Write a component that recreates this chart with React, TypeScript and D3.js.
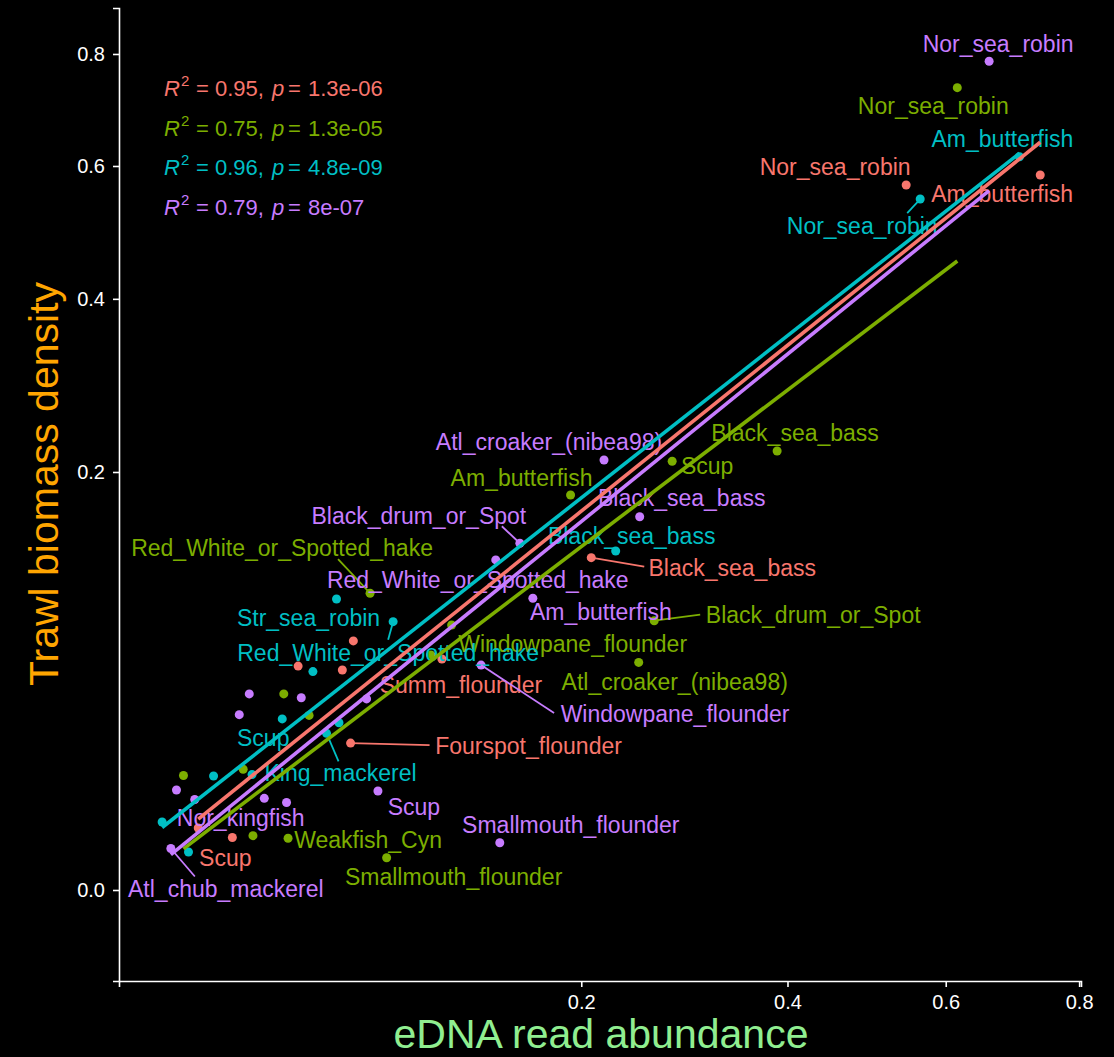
import React, { useRef, useEffect } from 'react';
import * as d3 from 'd3';

// chart size
const W = 1114;
const H = 1057;

// ---- data (x = eDNA read abundance, y = trawl biomass density)
const redNames = ['Am_butterfish', 'Nor_sea_robin', 'Black_sea_bass', '', '', '', 'Summ_flounder', 'Fourspot_flounder', 'Scup', ''];
const redX = [0.7387, 0.5462, 0.2081, 0.0588, 0.0372, 0.0541, 0.1037, 0.0576, 0.0179, 0.01064];
const redY = [0.5852, 0.5689, 0.1264, 0.071, 0.0574, 0.0554, 0.0611, 0.0247, 0.00316, 0.0044];

const greenNames = ['Nor_sea_robin', 'Black_sea_bass', 'Scup', 'Am_butterfish', 'Red_White_or_Spotted_hake', 'Windowpane_flounder', 'Black_drum_or_Spot', '', 'Atl_croaker_(nibea98)', '', '', '', '', '', 'Weakfish_Cyn', 'Smallmouth_flounder'];
const greenX = [0.6162, 0.3883, 0.2797, 0.1915, 0.0663, 0.1094, 0.2629, 0.0974, 0.2488, 0.0324, 0.0411, 0.00808, 0.0206, 0.0232, 0.0338, 0.0742];
const greenY = [0.7368, 0.2206, 0.2104, 0.1786, 0.1008, 0.0804, 0.083, 0.0632, 0.0593, 0.044, 0.0349, 0.015, 0.0167, 0.00338, 0.00306, 0.00119];

const cyanNames = ['Am_butterfish', 'Nor_sea_robin', 'Black_sea_bass', 'Str_sea_robin', 'Red_White_or_Spotted_hake', '', 'Scup', '', 'King_mackerel', '', '', '', ''];
const cyanX = [0.707, 0.565, 0.2286, 0.0517, 0.0774, 0.0425, 0.0319, 0.0527, 0.0477, 0.01367, 0.02295, 0.005, 0.00891];
const cyanY = [0.6155, 0.5465, 0.1315, 0.0969, 0.0824, 0.0546, 0.0335, 0.032, 0.0281, 0.01488, 0.01527, 0.0053, 0.00165];

const purpleNames = ['Nor_sea_robin', 'Atl_croaker_(nibea98)', 'Black_sea_bass', 'Black_drum_or_Spot', 'Red_White_or_Spotted_hake', 'Am_butterfish', 'Windowpane_flounder', '', '', '', '', '', 'Nor_kingfish', '', '', 'Scup', 'Smallmouth_flounder', 'Atl_chub_mackerel'];
const purpleX = [0.6619, 0.2187, 0.2497, 0.1537, 0.1372, 0.163, 0.1276, 0.0222, 0.0383, 0.0647, 0.0196, 0.00699, 0.01, 0.0264, 0.0333, 0.07, 0.1399, 0.00617];
const purpleY = [0.7861, 0.2116, 0.1595, 0.1376, 0.1247, 0.0974, 0.0579, 0.044, 0.0423, 0.0418, 0.0352, 0.01145, 0.00937, 0.00962, 0.00876, 0.01122, 0.00256, 0.00197];

// stat labels
const r2Labels = ['0.95', '0.75', '0.96', '0.79'];
const pLabels = ['1.3e-06', '1.3e-05', '4.8e-09', '8e-07'];

const xTicks = [0.2, 0.4, 0.6, 0.8];
const yTicks = [0, 0.2, 0.4, 0.6, 0.8];

// repelled label layout in px: [labelDx, labelDy, segEndDx, segEndDy]
const redNudge = [[-38, 19], [-71, -18], [141, 10, 53, 9], null, null, null, [19, 26], [178, 3, 79, 2], [-7, 20], null];
const greenNudge = [[-24, 18], [18, -18], [35, 5], [-49, -17], [-88, -45, -32, -34], [121, 19], [159, -6, 46, -6], null, [36, 20], null, null, null, null, null, [80, 2], [67, 19]];
const cyanNudge = [[-17, -18], [-58, 27, -13, 14], [16, -15], [-28, 19], [-5, 31, -5, 18], null, [-19, 19], null, [14, 40, 12, 28], null, null, null, null];
const purpleNudge = [[9, -17], [-55, -18], [42, -19], [-101, -27, -18, -17], [-18, 20], [68, 14], [194, 49, 73, 48], null, null, null, null, null, [46, 18], null, null, [36, 16], [71, -18], [55, 40, 24, 28]];

const series = [
  { color: '#F8766D', names: redNames, x: redX, y: redY, nudge: redNudge },
  { color: '#7CAE00', names: greenNames, x: greenX, y: greenY, nudge: greenNudge },
  { color: '#00BFC4', names: cyanNames, x: cyanX, y: cyanY, nudge: cyanNudge },
  { color: '#C77CFF', names: purpleNames, x: purpleX, y: purpleY, nudge: purpleNudge },
];

const FONT = '"Liberation Sans", Arial, Helvetica, sans-serif';

const App = () => {
  const svgRef = useRef(null);

  useEffect(() => {
    const svg = d3.select(svgRef.current);
    svg.selectAll('*').remove();

    const x = d3.scaleSqrt().domain([0.03198 ** 2, 0.8961 ** 2]).range([119, 1081]);
    const y = d3.scaleSqrt().domain([-(0.09736 ** 2), 0.94362 ** 2]).range([981, 8]);

    svg.append('rect').attr('width', W).attr('height', H).attr('fill', '#000');

    // axes
    const gx = svg.append('g').attr('transform', 'translate(0,981)')
      .call(d3.axisBottom(x).tickValues(xTicks).tickFormat(d3.format('.1f')).tickSizeOuter(0).tickSize(6));
    const gy = svg.append('g').attr('transform', 'translate(119,0)')
      .call(d3.axisLeft(y).tickValues(yTicks).tickFormat(d3.format('.1f')).tickSizeOuter(0).tickSize(6));
    [gx, gy].forEach((g) => {
      g.selectAll('path, line').attr('stroke', '#fff').attr('stroke-width', 1.6);
      g.selectAll('text').attr('fill', '#fff').attr('font-size', 20).attr('font-family', FONT);
    });
    gx.selectAll('text').attr('dy', '0.95em');
    gy.selectAll('text').attr('x', -14);

    // axis titles
    svg.append('text')
      .attr('x', 601).attr('y', 1048).attr('text-anchor', 'middle')
      .attr('fill', '#90EE90').attr('font-size', 41).attr('font-family', FONT)
      .text('eDNA read abundance');
    svg.append('text')
      .attr('transform', 'translate(58,484) rotate(-90)').attr('text-anchor', 'middle')
      .attr('fill', '#FFA500').attr('font-size', 41).attr('font-family', FONT)
      .text('Trawl biomass density');

    const gPts = svg.append('g');
    const gLab = svg.append('g');
    const gLines = svg.append('g');

    series.forEach((s) => {
      const pts = s.x.map((v, i) => ({ x: v, y: s.y[i], name: s.names[i], nudge: s.nudge[i] }));

      gPts.selectAll(null).data(pts).join('circle')
        .attr('cx', (d) => x(d.x)).attr('cy', (d) => y(d.y)).attr('r', 4.5)
        .attr('fill', s.color);

      // labels + segments
      const lab = pts.filter((d) => d.name && d.nudge);
      gLab.selectAll(null).data(lab.filter((d) => d.nudge.length > 2)).join('line')
        .attr('x1', (d) => x(d.x)).attr('y1', (d) => y(d.y))
        .attr('x2', (d) => x(d.x) + d.nudge[2]).attr('y2', (d) => y(d.y) + d.nudge[3])
        .attr('stroke', s.color).attr('stroke-width', 1.8);
      gLab.selectAll(null).data(lab).join('text')
        .attr('x', (d) => x(d.x) + d.nudge[0]).attr('y', (d) => y(d.y) + d.nudge[1])
        .attr('dy', '0.35em').attr('text-anchor', 'middle')
        .attr('fill', s.color).attr('font-size', 23).attr('font-family', FONT)
        .text((d) => d.name);

      // lm fit in sqrt space
      const sx = s.x.map(Math.sqrt);
      const sy = s.y.map(Math.sqrt);
      const mx = d3.mean(sx);
      const my = d3.mean(sy);
      let num = 0;
      let den = 0;
      sx.forEach((v, i) => {
        num += (v - mx) * (sy[i] - my);
        den += (v - mx) ** 2;
      });
      const slope = num / den;
      const [lo, hi] = d3.extent(sx);
      const fit = [lo, hi].map((v) => {
        const yy = my + slope * (v - mx);
        return [v * v, Math.sign(yy) * yy * yy];
      });
      gLines.append('path')
        .attr('d', d3.line().x((d) => x(d[0])).y((d) => y(d[1]))(fit))
        .attr('fill', 'none').attr('stroke', s.color).attr('stroke-width', 3.6);
    });

    // R2 / p annotations (plotmath-like spacing)
    series.forEach((s, i) => {
      const base = 96 + i * 39.5;
      const g = svg.append('g').attr('fill', s.color).attr('font-size', 22).attr('font-family', FONT);
      g.append('text').attr('x', 164).attr('y', base).attr('font-style', 'italic').text('R');
      g.append('text').attr('x', 181).attr('y', base - 10).attr('font-size', 15).text('2');
      g.append('text').attr('x', 196).attr('y', base).text('=');
      g.append('text').attr('x', 215).attr('y', base).text(`${r2Labels[i]},`);
      g.append('text').attr('x', 272).attr('y', base).attr('font-style', 'italic').text('p');
      g.append('text').attr('x', 288).attr('y', base).text('=');
      g.append('text').attr('x', 308).attr('y', base).text(pLabels[i]);
    });
  }, []);

  return (
    <svg
      ref={svgRef}
      width={W}
      height={H}
      style={{ position: 'absolute', left: 0, top: 0, display: 'block' }}
    />
  );
};

export default App;
